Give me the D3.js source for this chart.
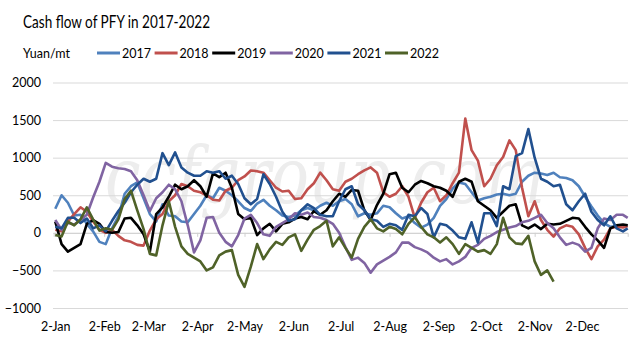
<!DOCTYPE html>
<html>
<head>
<meta charset="utf-8">
<script src="https://cdn.jsdelivr.net/npm/d3@7"></script>
<style>
  body { margin: 0; background: #fff; }
  text { font-family: Lato, "Open Sans", sans-serif; fill: #000; }
</style>
</head>
<body>
<div id="chart"></div>
<script>
const WIDTH = 643;
const HEIGHT = 341;

const years = ["2017", "2018", "2019", "2020", "2021", "2022"];
const yTicks = [-1000, -500, 0, 500, 1000, 1500, 2000];
const monthTicks = d3.range(12).map(m => new Date(2021, m, 2));
// one reading every 4 days from 2-Jan, last one on 31-Dec
const dates = d3.timeDay.range(new Date(2021, 0, 2), new Date(2021, 11, 29), 4)
    .concat([new Date(2021, 11, 31)]);

const cf2017 = [320,500,400,230,240,120,20,-120,-150,60, 220,520,620,670,460,250,150,380,230,220,
    150,140,250,360,500,460,600,560,500,420, 330,290,390,440,360,300,230,210,230,300,
    330,300,360,400,360,420,450,380,220,260, 240,260,360,340,260,190,220,130,70,110,
    200,360,450,590,670,650,540,430,460,480, 510,520,500,520,680,760,800,790,770,800,
    740,730,700,620,480,350,230,130,80,90, 100,100];
const cf2018 = [40,20,150,250,340,280,150,40,0,40, -40,-100,-120,-160,-170,30,180,250,420,500,
    650,620,560,540,500,440,430,560,600,700, 750,830,820,800,700,600,550,560,450,460,
    580,660,800,700,580,560,680,720,780,830, 870,800,540,480,520,620,480,200,400,540,
    600,420,500,660,800,1520,1100,960,620,720, 900,1010,1230,1100,600,220,420,170,40,-50,
    60,100,80,-20,-200,-350,-180,-90,60,80, 70,90];
const cf2019 = [150,-150,-250,-200,-150,120,170,120,10,0, 10,190,200,100,-20,-250,250,340,480,640,
    580,620,700,620,480,790,740,800,600,250, 180,200,-30,60,120,20,120,140,190,210,
    180,290,240,300,420,520,480,570,560,300, 170,370,520,780,800,600,540,640,690,660,
    620,600,560,480,680,720,680,420,360,300, 200,280,360,380,100,60,110,50,120,110,
    120,160,200,190,80,-20,-100,-200,60,100, 110,100];
const cf2020 = [170,40,130,110,170,240,470,680,930,880, 860,850,820,700,500,290,460,540,640,580,
    420,100,-260,-100,200,210,0,-120,-180,-30, 190,240,130,-20,-40,80,130,180,260,240,
    270,210,200,170,120,0,-190,-360,-330,-400, -530,-420,-370,-320,-260,-130,-130,-190,-220,-260,
    -330,-380,-350,-420,-380,-320,-200,-160,-80,-40, 10,40,70,90,140,160,200,240,130,60,
    -60,-160,-130,-160,-250,-200,60,190,170,240, 240,200];
const cf2021 = [80,60,200,200,130,190,60,100,20,160, 290,400,540,640,720,680,720,1060,900,1070,
    870,800,760,760,820,800,820,720,760,650, 460,380,450,780,650,480,280,160,180,300,
    380,330,240,220,220,420,580,620,380,300, 180,160,80,120,100,40,240,220,330,250,
    -60,120,100,30,-60,-80,140,-130,260,260, 90,620,580,1020,1060,1380,1000,720,680,620,
    640,380,300,420,520,280,170,100,220,60, 20,60];
const cf2022 = [-30,-50,150,100,180,340,180,30,60,40, 180,450,560,300,50,-280,-300,100,420,80,
    -180,-280,-330,-380,-500,-460,-300,-250,-230,-560, -720,-450,-150,-350,-220,-120,-160,-60,-20,-240,
    -90,40,90,160,-180,-60,-200,-330,-80,80, 180,60,20,80,50,-20,120,210,80,-20,
    -60,-130,-60,-150,-280,-150,-200,-250,-230,-280, -150,200,-60,-140,-150,-40,-380,-560,-500,-650];

const seriesValues = [cf2017, cf2018, cf2019, cf2020, cf2021, cf2022];
const colors = ["#4f81bd", "#c0504d", "#000000", "#8064a2", "#21508f", "#4f6228"];

const margin = {left: 53, right: 15, top: 82.5, bottom: 33};
const plotRight = WIDTH - margin.right;

const svg = d3.select("#chart")
    .append("svg")
    .attr("width", WIDTH)
    .attr("height", HEIGHT);

const x = d3.scaleTime()
    .domain([new Date(2021, 0, 1), new Date(2021, 11, 31)])
    .range([margin.left + 0.7, plotRight - 0.3]);
const y = d3.scaleLinear()
    .domain([-1000, 2000])
    .range([308, margin.top]);

// title
svg.append("text")
    .attr("x", 23)
    .attr("y", 28)
    .attr("font-size", "17px")
    .attr("textLength", 187)
    .attr("lengthAdjust", "spacingAndGlyphs")
    .text("Cash flow of PFY in 2017-2022");

// watermark
svg.append("text")
    .attr("x", 105)
    .attr("y", 203)
    .attr("font-size", "78px")
    .attr("font-style", "italic")
    .style("font-family", "'DejaVu Serif', serif")
    .style("fill", "#ededed")
    .attr("textLength", 440)
    .attr("lengthAdjust", "spacingAndGlyphs")
    .text("ccfgroup.com");

// grid + y labels
const yAxis = svg.append("g")
    .attr("transform", `translate(${margin.left},0)`)
    .call(d3.axisLeft(y).tickValues(yTicks).tickSize(-(plotRight - margin.left)).tickPadding(12).tickFormat(d3.format("d")));
yAxis.select(".domain").remove();
yAxis.selectAll(".tick line").attr("stroke", "#d9d9d9");
yAxis.selectAll(".tick text").attr("font-size", "12.5px").style("font-family", "Lato, sans-serif");

// category axis crossing at 0
const zeroAxis = svg.append("g")
    .attr("transform", `translate(0,${y(0)})`)
    .call(d3.axisBottom(x).tickValues(monthTicks).tickSize(4).tickFormat(""));
zeroAxis.selectAll("line, path").attr("stroke", "#d0d0d0");

// month labels at the bottom
const xAxis = svg.append("g")
    .attr("transform", `translate(0,${y(-1000)})`)
    .call(d3.axisBottom(x).tickValues(monthTicks).tickSize(0).tickPadding(14.5).tickFormat(d3.timeFormat("%-d-%b")));
xAxis.select(".domain").remove();
xAxis.selectAll(".tick text").attr("font-size", "12.5px").style("font-family", "Lato, sans-serif");

// series
const line = d3.line()
    .defined(d => d != null)
    .x((d, i) => x(dates[i]))
    .y(d => y(d));

seriesValues.forEach((vals, k) => {
    svg.append("path")
        .datum(vals)
        .attr("fill", "none")
        .attr("stroke", colors[k])
        .attr("stroke-width", 2.6)
        .attr("stroke-linejoin", "round")
        .attr("d", line);
});

// legend
svg.append("text")
    .attr("x", 23)
    .attr("y", 57.5)
    .attr("font-size", "12.5px")
    .text("Yuan/mt");

const legend = svg.append("g");
years.forEach((yr, k) => {
    let lx = 97 + k * 57.6;
    legend.append("line")
        .attr("x1", lx).attr("x2", lx + 23)
        .attr("y1", 53).attr("y2", 53)
        .attr("stroke", colors[k])
        .attr("stroke-width", 3);
    legend.append("text")
        .attr("x", lx + 25)
        .attr("y", 57.5)
        .attr("font-size", "12.5px")
        .text(yr);
});
</script>
</body>
</html>
